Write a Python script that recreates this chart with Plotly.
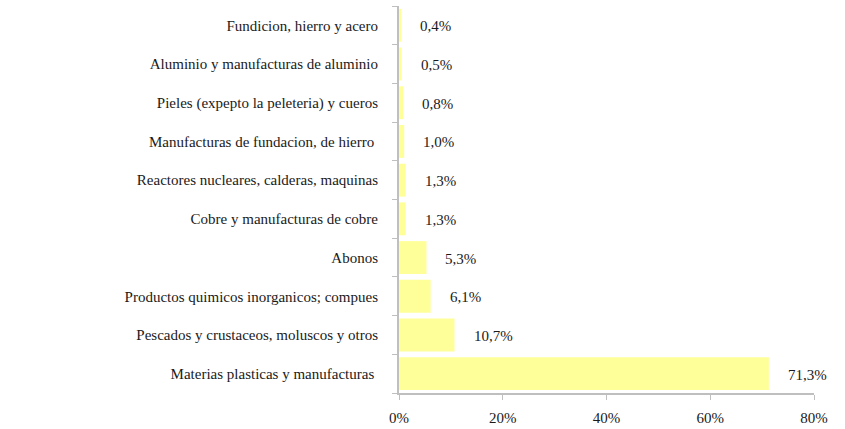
import plotly.graph_objects as go

# datos (de abajo hacia arriba)
productos = [
    "Materias plasticas y manufacturas ",
    "Pescados y crustaceos, moluscos y otros",
    "Productos quimicos inorganicos; compues",
    "Abonos",
    "Cobre y manufacturas de cobre",
    "Reactores nucleares, calderas, maquinas",
    "Manufacturas de fundacion, de hierro ",
    "Pieles (expepto la peleteria) y cueros",
    "Aluminio y manufacturas de aluminio",
    "Fundicion, hierro y acero",
]
participacion = [71.3, 10.7, 6.1, 5.3, 1.3, 1.3, 1.0, 0.8, 0.5, 0.4]

tick_vals = [0, 20, 40, 60, 80]
tick_text = ["0%", "20%", "40%", "60%", "80%"]

FONT = "Liberation Serif, Times New Roman, serif"

fig = go.Figure(go.Bar(
    y=productos,
    x=participacion,
    orientation="h",
    marker=dict(color="#FFFF99", line=dict(width=0)),
    hoverinfo="skip",
))

for p, v in zip(productos, participacion):
    fig.add_annotation(
        x=v, y=p, xref="x", yref="y",
        text=f"{v:.1f}%".replace(".", ","),
        showarrow=False, xanchor="left", xshift=17, yshift=-1,
        font=dict(family=FONT, size=15, color="#1a1a1a"),
    )

fig.update_layout(
    width=845, height=429,
    margin=dict(l=399, r=31, t=6, b=36),
    paper_bgcolor="white", plot_bgcolor="white",
    bargap=0.15,
    showlegend=False,
    font=dict(family=FONT, size=15, color="#1a1a1a"),
)
fig.update_xaxes(
    range=[0, 80], tickvals=tick_vals, ticktext=tick_text,
    showgrid=False, zeroline=False, automargin=False,
    showline=True, linecolor="#BFBFBF", linewidth=2,
    ticks="outside", ticklen=5, tickcolor="#BFBFBF", tickwidth=1,
    ticklabelstandoff=5,
    tickfont=dict(family=FONT, size=15, color="#1a1a1a"),
)
fig.update_yaxes(
    type="category", categoryorder="array", categoryarray=productos,
    showgrid=False, zeroline=False, automargin=False,
    showline=True, linecolor="#BFBFBF", linewidth=2,
    ticks="outside", ticklen=5, tickcolor="#BFBFBF", tickwidth=1,
    tickson="boundaries", ticklabelstandoff=16,
    tickfont=dict(family=FONT, size=15, color="#1a1a1a"),
)

fig.write_html("out.html", config={"displayModeBar": False},
               post_script="document.body.style.margin='0';")
